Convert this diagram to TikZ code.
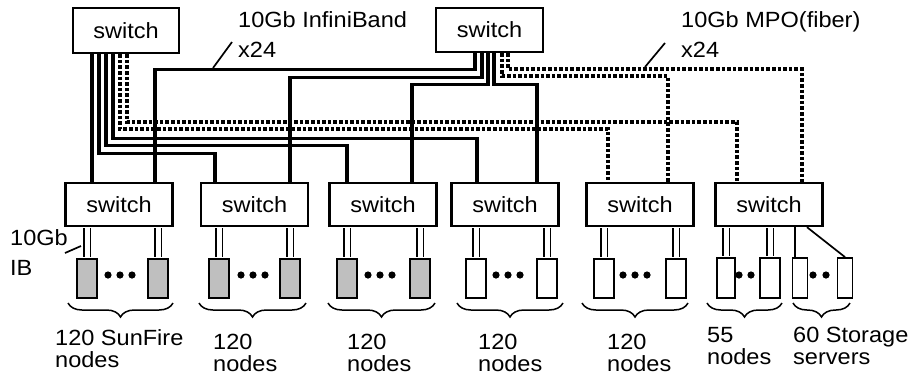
\documentclass[tikz,border=0pt]{standalone}
\usepackage{fontspec}
\setmainfont[FakeStretch=1.07]{Liberation Sans}
\usetikzlibrary{decorations.pathreplacing}
\definecolor{srvgray}{HTML}{BFBFBF}
\tikzset{
  sw/.style={draw, line width=2.4pt, fill=white, minimum width=107pt,
    minimum height=43pt, inner sep=0pt, font=\fontsize{22}{24}\selectfont},
  srv/.style={draw, line width=1.8pt, fill=white, minimum width=20pt,
    minimum height=39pt, inner sep=0pt},
  ib/.style={line width=3.4pt},
  mpo/.style={line width=3.6pt, dash pattern=on 3.6pt off 2pt},
  dbl/.style={double, double distance=5pt, line width=1.7pt,
    shorten <=1.2pt, shorten >=0.9pt},
  thinlink/.style={line width=1.7pt},
  brc/.style={decorate, decoration={brace, mirror, amplitude=14pt},
    line width=1.5pt},
  lbl/.style={align=left, inner sep=0pt, anchor=base west,
    font=\fontsize{22}{22}\selectfont},
  toplbl/.style={lbl, font=\fontsize{22}{30}\selectfont},
}
\begin{document}
\begin{tikzpicture}[x=1pt, y=-1pt]
  \useasboundingbox (0,0) rectangle (915,376);
  % core switches
  \node[sw, minimum width=106pt, minimum height=45pt] (tl) at (126,30.5) {switch};
  \node[sw, minimum height=44pt] (tr) at (489.5,30) {switch};
  % edge switches
  \node[sw] (s1) at (119,204.5) {switch};
  \node[sw] (s2) at (254.5,204.5) {switch};
  \node[sw] (s3) at (383,204.5) {switch};
  \node[sw] (s4) at (505,204.5) {switch};
  \node[sw] (s5) at (640,204.5) {switch};
  \node[sw] (s6) at (769,204.5) {switch};
  % compute nodes (grey = SunFire)
  \node[srv, fill=srvgray] (n11) at (87,278.5) {};
  \node[srv, fill=srvgray] (n12) at (158,278.5) {};
  \node[srv, fill=srvgray] (n21) at (219,278.5) {};
  \node[srv, fill=srvgray] (n22) at (290,278.5) {};
  \node[srv, fill=srvgray] (n31) at (347,278.5) {};
  \node[srv, fill=srvgray] (n32) at (420,278.5) {};
  \node[srv] (n41) at (476,278.5) {};
  \node[srv] (n42) at (547,278.5) {};
  \node[srv] (n51) at (604,278.5) {};
  \node[srv] (n52) at (676,278.5) {};
  \node[srv, minimum width=18pt, minimum height=40pt] (n61) at (726,278) {};
  \node[srv, minimum height=40pt] (n62) at (770,278) {};
  % storage servers
  \node[srv, minimum width=15pt, minimum height=40pt] (n63) at (800,278) {};
  \node[srv, minimum width=15pt, minimum height=40pt] (n64) at (845,278) {};

  % InfiniBand from the left core switch
  \draw[ib] ([xshift=-34pt]tl.south) -- ([xshift=-27pt]s1.north);
  \draw[ib] ([xshift=-27pt]tl.south) -- ++(0,99) -| ([xshift=-39.5pt]s2.north);
  \draw[ib] ([xshift=-20pt]tl.south) -- ++(0,91) -| ([xshift=-36pt]s3.north);
  \draw[ib] ([xshift=-13pt]tl.south) -- ++(0,84) -| ([xshift=-28pt]s4.north);
  % fiber from the left core switch
  \draw[mpo] ([xshift=-6pt]tl.south) -- ++(0,75) -| ([xshift=-32pt]s5.north);
  \draw[mpo] ([xshift=1pt]tl.south) -- ++(0,68) -| ([xshift=-32pt]s6.north);
  % InfiniBand from the right core switch
  \draw[ib] ([xshift=-14.5pt]tr.south) -- ++(0,16) -| ([xshift=36pt]s1.north);
  \draw[ib] ([xshift=-7.5pt]tr.south) -- ++(0,24) -| ([xshift=35.5pt]s2.north);
  \draw[ib] ([xshift=-1.5pt]tr.south) -- ++(0,31) -| ([xshift=29pt]s3.north);
  \draw[ib] ([xshift=4.5pt]tr.south) -- ++(0,31) -| ([xshift=32pt]s4.north);
  % fiber from the right core switch
  \draw[mpo] ([xshift=12.5pt]tr.south) -- ++(0,23) -| ([xshift=28pt]s5.north);
  \draw[mpo] ([xshift=18.5pt]tr.south) -- ++(0,16) -| ([xshift=33pt]s6.north);

  % 10Gb IB links down to the nodes
  \draw[dbl] (n11.north |- s1.south) -- (n11.north);
  \draw[dbl] (n12.north |- s1.south) -- (n12.north);
  \draw[dbl] (n21.north |- s2.south) -- (n21.north);
  \draw[dbl] (n22.north |- s2.south) -- (n22.north);
  \draw[dbl] (n31.north |- s3.south) -- (n31.north);
  \draw[dbl] (n32.north |- s3.south) -- (n32.north);
  \draw[dbl] (n41.north |- s4.south) -- (n41.north);
  \draw[dbl] (n42.north |- s4.south) -- (n42.north);
  \draw[dbl] (n51.north |- s5.south) -- (n51.north);
  \draw[dbl] (n52.north |- s5.south) -- (n52.north);
  \draw[dbl] (n61.north |- s6.south) -- (n61.north);
  \draw[dbl] (n62.north |- s6.south) -- (n62.north);
  \draw[thinlink] ([xshift=-5pt]n63.north |- s6.south) -- ([xshift=-5pt]n63.north);
  \draw[thinlink] ([xshift=38pt]s6.south) -- (n64.north);

  % dots between the end nodes
  \fill (108,275) circle (3.6pt) (120,275) circle (3.6pt) (132,275) circle (3.6pt);
  \fill (241,275) circle (3.6pt) (253,275) circle (3.6pt) (265,275) circle (3.6pt);
  \fill (368,275) circle (3.6pt) (380,275) circle (3.6pt) (392,275) circle (3.6pt);
  \fill (496,275) circle (3.6pt) (508,275) circle (3.6pt) (520,275) circle (3.6pt);
  \fill (623,275) circle (3.6pt) (635,275) circle (3.6pt) (647,275) circle (3.6pt);
  \fill (739,275) circle (3.6pt) (751,275) circle (3.6pt);
  \fill (813,275) circle (3.6pt) (826,275) circle (3.6pt);

  % braces under each group
  \draw[brc] (68,303) -- (173,303);
  \draw[brc] (199,303) -- (306,303);
  \draw[brc] (328,303) -- (435,303);
  \draw[brc] (457,303) -- (563,303);
  \draw[brc] (582,303) -- (688,303);
  \draw[brc] (707,303) -- (782,303);
  \draw[brc] (793,303) -- (850,303);

  % labels
  \node[toplbl] (iblbl) at (238,57) {10Gb InfiniBand\\x24};
  \node[toplbl] (mpolbl) at (681,57) {10Gb MPO(fiber)\\x24};
  \node[toplbl] (linklbl) at (10,275) {10Gb\\IB};
  \draw[thinlink] (213,68) -- (232,42);
  \draw[thinlink] (645,67) -- (665,43);
  \draw[thinlink] (65,253) -- (81,246);
  \node[lbl] (g1) at (55,367) {120 SunFire\\nodes};
  \node[lbl] (g2) at (213,371) {120\\nodes};
  \node[lbl] (g3) at (347,371) {120\\nodes};
  \node[lbl] (g4) at (478,371) {120\\nodes};
  \node[lbl] (g5) at (607,371) {120\\nodes};
  \node[lbl] (g6) at (707,364) {55\\nodes};
  \node[lbl] (g7) at (793,364) {60 Storage\\servers};
\end{tikzpicture}
\end{document}
